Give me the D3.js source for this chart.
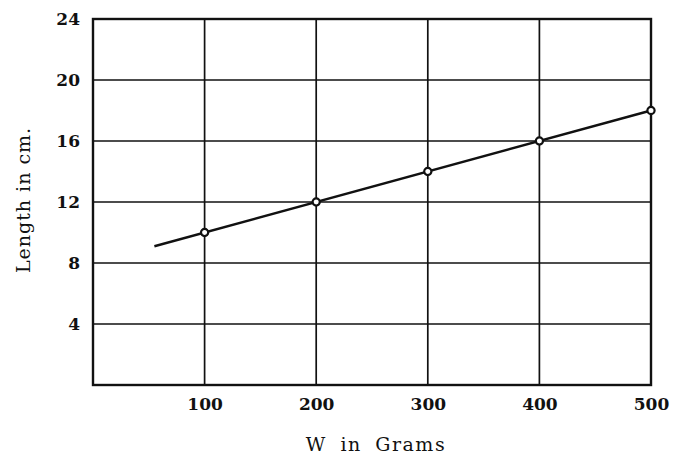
<!DOCTYPE html>
<html>
<head>
<meta charset="utf-8">
<script src="https://cdn.jsdelivr.net/npm/d3@7"></script>
<style>
  html, body { margin: 0; padding: 0; background: #fff; }
  svg { display: block; }
</style>
</head>
<body>
<svg id="chart" width="677" height="458"></svg>
<script>
// Measured weights (grams) and stretched lengths (cm)
const weights = [100, 200, 300, 400, 500];
const lengths = [10, 12, 14, 16, 18];
// Straight line drawn through the measurements
const fitWeights = [55, 500];
const fitLengths = [9.1, 18];
// Axis ticks
const xTicks = [100, 200, 300, 400, 500];
const yTicks = [4, 8, 12, 16, 20, 24];

const svg = d3.select("#chart");
const plot = { left: 93, right: 651, top: 19, bottom: 385 };

const x = d3.scaleLinear().domain([0, 500]).range([plot.left, plot.right]);
const y = d3.scaleLinear().domain([0, 24]).range([plot.bottom, plot.top]);

const ink = "#111";
const serif = "'Century Schoolbook', 'DejaVu Serif', 'Liberation Serif', serif";

// Grid lines
svg.append("g").selectAll("line").data(xTicks).join("line")
  .attr("x1", d => x(d)).attr("x2", d => x(d))
  .attr("y1", plot.top).attr("y2", plot.bottom)
  .attr("stroke", ink).attr("stroke-width", 1.7);
svg.append("g").selectAll("line").data(yTicks).join("line")
  .attr("x1", plot.left).attr("x2", plot.right)
  .attr("y1", d => y(d)).attr("y2", d => y(d))
  .attr("stroke", ink).attr("stroke-width", 1.7);

// Frame
svg.append("rect")
  .attr("x", plot.left).attr("y", plot.top)
  .attr("width", plot.right - plot.left).attr("height", plot.bottom - plot.top)
  .attr("fill", "none").attr("stroke", ink).attr("stroke-width", 2.4);

// Tick labels via axes (no tick marks or domain)
const xAxis = svg.append("g")
  .attr("transform", `translate(0,${plot.bottom})`)
  .call(d3.axisBottom(x).tickValues(xTicks).tickSize(0).tickPadding(13));
const yAxis = svg.append("g")
  .attr("transform", `translate(${plot.left},0)`)
  .call(d3.axisLeft(y).tickValues(yTicks).tickSize(0).tickPadding(13));
[xAxis, yAxis].forEach(g => {
  g.select(".domain").remove();
  g.selectAll("text")
    .attr("fill", ink)
    .style("font-family", serif)
    .style("font-size", "17px")
    .style("font-weight", "bold");
});

// Fitted line
svg.append("path")
  .datum(d3.zip(fitWeights, fitLengths))
  .attr("d", d3.line().x(d => x(d[0])).y(d => y(d[1])))
  .attr("fill", "none").attr("stroke", ink).attr("stroke-width", 2.4);

// Measured points
svg.append("g").selectAll("circle").data(d3.zip(weights, lengths)).join("circle")
  .attr("cx", d => x(d[0])).attr("cy", d => y(d[1]))
  .attr("r", 3.6)
  .attr("fill", "#fff").attr("stroke", ink).attr("stroke-width", 2.2);

// Axis titles
svg.append("text")
  .attr("x", 376).attr("y", 451)
  .attr("text-anchor", "middle")
  .attr("fill", ink)
  .style("font-family", serif).style("font-size", "19px")
  .style("letter-spacing", "1.5px").style("word-spacing", "6px")
  .text("W in Grams");
svg.append("text")
  .attr("transform", `translate(30,200) rotate(-90)`)
  .attr("text-anchor", "middle")
  .attr("fill", ink)
  .style("font-family", serif).style("font-size", "19px")
  .style("letter-spacing", "1px")
  .text("Length in cm.");
</script>
</body>
</html>
